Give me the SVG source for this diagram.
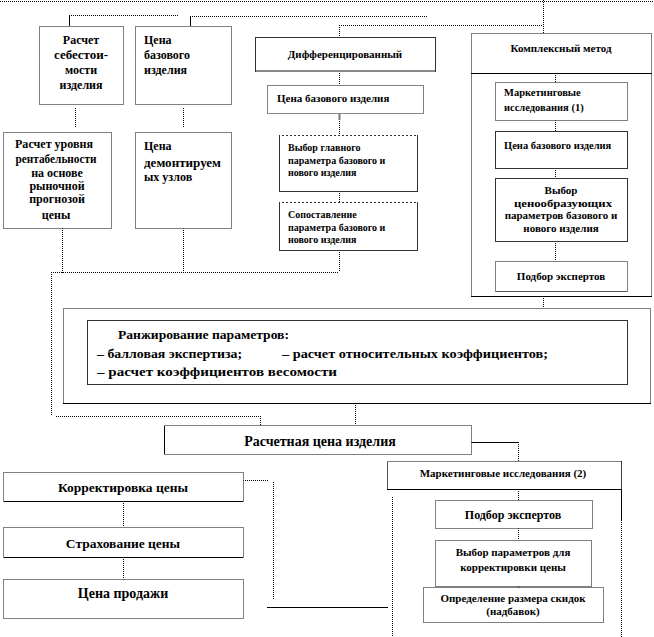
<svg xmlns="http://www.w3.org/2000/svg" width="654" height="637" viewBox="0 0 654 637">
<style>
  .bg{fill:#fff}
  .dot{fill:#fff;stroke:#000;stroke-width:1;stroke-dasharray:1 1}
  .sol{fill:#fff;stroke:#333;stroke-width:1}
  .frame{fill:none;stroke:#000;stroke-width:1;stroke-dasharray:1 1}
  .c{fill:none;stroke:#000;stroke-width:1;stroke-dasharray:1 1}
  .cs{fill:none;stroke:#000;stroke-width:1}
  .cg{fill:none;stroke:#777;stroke-width:2}
  text{font-family:"Liberation Serif","Times New Roman",serif;font-weight:bold;fill:#000}
  .m{text-anchor:middle}
  .f12{font-size:12px}
  .f10{font-size:10px}
  .f105{font-size:10.5px}
  .f11{font-size:11px}
  .f12b{font-size:12px}
  .f13{font-size:13.5px}
  .f14{font-size:14px}
</style>
<rect class="bg" x="0" y="0" width="654" height="637"/>

<g id="connectors">
  <line class="c" x1="0" y1="1.5" x2="654" y2="1.5"/>
  <line class="c" x1="543.5" y1="0" x2="543.5" y2="33"/>
  <line class="c" x1="339" y1="25.5" x2="543" y2="25.5"/>
  <line class="c" x1="339.5" y1="25" x2="339.5" y2="37"/>
  <line class="c" x1="69" y1="15.5" x2="178" y2="15.5"/>
  <line class="c" x1="190" y1="16.5" x2="428" y2="16.5"/>
  <line class="cs" x1="69.5" y1="15" x2="69.5" y2="26"/>
  <line class="cs" x1="190.5" y1="16" x2="190.5" y2="26"/>
  <line class="c" x1="555.5" y1="73" x2="555.5" y2="82"/>
  <line class="c" x1="555.5" y1="120" x2="555.5" y2="131"/>
  <line class="c" x1="555.5" y1="168" x2="555.5" y2="178"/>
  <line class="c" x1="555.5" y1="241" x2="555.5" y2="261"/>
  <line class="c" x1="543.5" y1="296" x2="543.5" y2="308"/>
  <line class="c" x1="339.5" y1="71" x2="339.5" y2="85"/>
  <line class="c" x1="339.5" y1="113" x2="339.5" y2="135"/>
  <line class="cg" x1="339.5" y1="113" x2="339.5" y2="120"/>
  <line class="c" x1="339.5" y1="191" x2="339.5" y2="202"/>
  <line class="c" x1="339.5" y1="250" x2="339.5" y2="272"/>
  <line class="c" x1="75.5" y1="108" x2="75.5" y2="127"/>
  <line class="c" x1="183.5" y1="108" x2="183.5" y2="127"/>
  <line class="c" x1="62.5" y1="228" x2="62.5" y2="273"/>
  <line class="c" x1="183.5" y1="228" x2="183.5" y2="272"/>
  <line class="c" x1="51" y1="272.5" x2="339" y2="272.5"/>
  <line class="c" x1="51.5" y1="272" x2="51.5" y2="416"/>
  <line class="c" x1="56" y1="416.5" x2="260" y2="416.5"/>
  <line class="c" x1="260.5" y1="416" x2="260.5" y2="425"/>
  <line class="c" x1="355.5" y1="403" x2="355.5" y2="425"/>
  <line class="cs" x1="471" y1="442.5" x2="518" y2="442.5"/>
  <line class="c" x1="518.5" y1="442" x2="518.5" y2="461"/>
  <line class="c" x1="518.5" y1="489" x2="518.5" y2="500"/>
  <line class="c" x1="518.5" y1="528" x2="518.5" y2="540"/>
  <line class="cg" x1="518.5" y1="578" x2="518.5" y2="589"/>
  <line class="c" x1="243" y1="480.5" x2="268" y2="480.5"/>
  <line class="c" x1="273.5" y1="482" x2="273.5" y2="600"/>
  <line class="cs" x1="267" y1="607.5" x2="388" y2="607.5"/>
  <line class="c" x1="392.5" y1="497" x2="392.5" y2="637"/>
  <line class="cs" x1="621.5" y1="461" x2="621.5" y2="520"/>
  <line class="c" x1="621.5" y1="520" x2="621.5" y2="637"/>
  <line class="c" x1="123.5" y1="501" x2="123.5" y2="527"/>
  <line class="c" x1="123.5" y1="557" x2="123.5" y2="579"/>
  <line class="cg" x1="123.5" y1="579" x2="123.5" y2="588"/>
</g>

<g id="n-cost">
  <rect class="dot" x="39.5" y="26.5" width="84" height="78"/>
  <text class="f12 m" x="81" y="44">Расчет</text>
  <text class="f12 m" x="81" y="59" textLength="54" lengthAdjust="spacingAndGlyphs">себестои-</text>
  <text class="f12 m" x="81" y="74">мости</text>
  <text class="f12 m" x="81" y="89">изделия</text>
</g>
<g id="n-baseprice1">
  <rect class="dot" x="135.5" y="26.5" width="96" height="78"/>
  <text class="f12" x="144" y="44">Цена</text>
  <text class="f12" x="144" y="59">базового</text>
  <text class="f12" x="144" y="74">изделия</text>
</g>
<g id="n-profit">
  <rect class="dot" x="3.5" y="132.5" width="108" height="96"/>
  <text class="f12 m" x="54" y="148" textLength="78" lengthAdjust="spacingAndGlyphs">Расчет уровня</text>
  <text class="f12 m" x="56" y="163" textLength="81" lengthAdjust="spacingAndGlyphs">рентабельности</text>
  <text class="f12 m" x="57" y="177">на основе</text>
  <text class="f12 m" x="57" y="190">рыночной</text>
  <text class="f12 m" x="57" y="203">прогнозой</text>
  <text class="f12 m" x="56" y="219">цены</text>
</g>
<g id="n-dismantled">
  <rect class="dot" x="135.5" y="132.5" width="96" height="96"/>
  <text class="f12" x="144" y="150">Цена</text>
  <text class="f12" x="144" y="167" textLength="77" lengthAdjust="spacingAndGlyphs">демонтируем</text>
  <text class="f12" x="144" y="181">ых узлов</text>
</g>

<g id="n-diff">
  <rect class="sol" x="255.5" y="37.5" width="180" height="34"/>
  <line x1="256" y1="71" x2="435" y2="71" stroke="#888" stroke-width="2"/>
  <text class="f11 m" x="345" y="58">Дифференцированный</text>
</g>
<g id="n-diff-base">
  <rect class="dot" x="267.5" y="85.5" width="156" height="28"/>
  <line x1="268" y1="113.5" x2="423" y2="113.5" stroke="#888" stroke-width="1"/>
  <text class="f11" x="277" y="102">Цена базового изделия</text>
</g>
<g id="n-diff-main">
  <rect class="sol" x="279.5" y="135.5" width="138" height="56"/>
  <line x1="280" y1="135.5" x2="417" y2="135.5" stroke="#fff" stroke-width="1" stroke-dasharray="2 2"/>
  <text class="f10" x="288" y="151">Выбор главного</text>
  <text class="f10" x="288" y="164">параметра базового и</text>
  <text class="f10" x="288" y="176">нового изделия</text>
</g>
<g id="n-diff-compare">
  <rect class="sol" x="279.5" y="202.5" width="138" height="48"/>
  <line x1="280" y1="202.5" x2="417" y2="202.5" stroke="#fff" stroke-width="1" stroke-dasharray="2 2"/>
  <text class="f10" x="288" y="218">Сопоставление</text>
  <text class="f10" x="288" y="231">параметра базового и</text>
  <text class="f10" x="288" y="243">нового изделия</text>
</g>

<g id="n-complex">
  <rect class="frame" x="471.5" y="33.5" width="180" height="263"/>
  <line x1="471" y1="73.5" x2="652" y2="73.5" stroke="#000" stroke-width="1"/>
  <line x1="471" y1="296.5" x2="652" y2="296.5" stroke="#000" stroke-width="1"/>
  <text class="f11 m" x="561" y="52">Комплексный метод</text>
</g>
<g id="n-mkt1">
  <rect class="dot" x="495.5" y="82.5" width="132" height="38"/>
  <text class="f105" x="504" y="96">Маркетинговые</text>
  <text class="f105" x="504" y="111">исследования (1)</text>
</g>
<g id="n-cplx-base">
  <rect class="sol" x="495.5" y="131.5" width="132" height="37"/>
  <text class="f105" x="504" y="149">Цена базового изделия</text>
</g>
<g id="n-cplx-params">
  <rect class="sol" x="495.5" y="178.5" width="132" height="63"/>
  <text class="f11 m" x="561" y="194">Выбор</text>
  <text class="f11 m" x="563" y="207" textLength="98" lengthAdjust="spacingAndGlyphs">ценообразующих</text>
  <text class="f11 m" x="561" y="219">параметров базового и</text>
  <text class="f11 m" x="561" y="232">нового изделия</text>
</g>
<g id="n-cplx-experts">
  <rect class="dot" x="495.5" y="261.5" width="132" height="30"/>
  <line x1="496" y1="291.5" x2="627" y2="291.5" stroke="#555" stroke-width="1"/>
  <text class="f11 m" x="561" y="280">Подбор экспертов</text>
</g>

<g id="n-ranking">
  <rect class="frame" x="63.5" y="308.5" width="587" height="95"/>
  <line x1="63" y1="403.5" x2="651" y2="403.5" stroke="#000" stroke-width="1"/>
  <rect class="sol" x="87.5" y="320.5" width="540" height="64"/>
  <text class="f13" x="118" y="339" textLength="171" lengthAdjust="spacingAndGlyphs">Ранжирование параметров:</text>
  <text class="f13" x="97" y="358" textLength="145" lengthAdjust="spacingAndGlyphs">– балловая экспертиза;</text>
  <text class="f13" x="282" y="358" textLength="266" lengthAdjust="spacingAndGlyphs">– расчет относительных коэффициентов;</text>
  <text class="f13" x="97" y="376" textLength="240" lengthAdjust="spacingAndGlyphs">– расчет коэффициентов весомости</text>
</g>

<g id="n-calcprice">
  <rect class="dot" x="164.5" y="425.5" width="307" height="29"/>
  <line x1="164.5" y1="426" x2="164.5" y2="454" stroke="#000" stroke-width="1"/>
  <text class="f14 m" x="320" y="446">Расчетная цена изделия</text>
</g>

<g id="n-correction">
  <rect class="dot" x="3.5" y="472.5" width="240" height="29"/>
  <line x1="4" y1="501.5" x2="243" y2="501.5" stroke="#000" stroke-width="1"/>
  <text class="f13 m" x="123" y="492">Корректировка цены</text>
</g>
<g id="n-insurance">
  <rect class="dot" x="3.5" y="527.5" width="240" height="30"/>
  <line x1="4" y1="557.5" x2="243" y2="557.5" stroke="#000" stroke-width="1"/>
  <text class="f13 m" x="123" y="548">Страхование цены</text>
</g>
<g id="n-saleprice">
  <rect class="dot" x="3.5" y="579.5" width="240" height="39"/>
  <text class="f14 m" x="123" y="598">Цена продажи</text>
</g>

<g id="n-mkt2">
  <rect class="dot" x="387.5" y="461.5" width="234" height="28"/>
  <line x1="387" y1="489.5" x2="622" y2="489.5" stroke="#000" stroke-width="1"/>
  <line x1="387.5" y1="462" x2="387.5" y2="489" stroke="#555" stroke-width="1"/>
  <text class="f11 m" x="503" y="477">Маркетинговые исследования (2)</text>
</g>
<g id="n-experts2">
  <rect class="dot" x="435.5" y="500.5" width="157" height="28"/>
  <text class="f12b m" x="513" y="519">Подбор экспертов</text>
</g>
<g id="n-corrparams">
  <rect class="dot" x="435.5" y="540.5" width="156" height="46"/>
  <text class="f11 m" x="513" y="556">Выбор параметров для</text>
  <text class="f11 m" x="513" y="571">корректировки цены</text>
</g>
<g id="n-discounts">
  <rect class="dot" x="423.5" y="587.5" width="180" height="35"/>
  <text class="f11 m" x="513" y="602">Определение размера скидок</text>
  <text class="f11 m" x="513" y="615">(надбавок)</text>
</g>
</svg>
